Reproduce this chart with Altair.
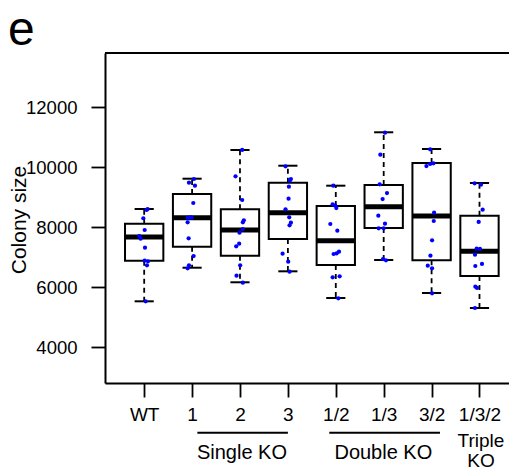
import json
import altair as alt
import pandas as pd

# ---- data ----
labels = ["WT", "1", "2", "3", "1/2", "1/3", "3/2", "1/3/2"]
q1 = [6877, 7343, 7043, 7600, 6733, 7967, 6890, 6367]
med = [7667, 8310, 7900, 8478, 7543, 8677, 8367, 7190]
q3 = [8110, 9100, 8590, 9477, 8700, 9400, 10133, 8377]
lo = [5523, 6643, 6157, 6523, 5633, 6900, 5800, 5300]
hi = [8600, 9610, 10567, 10043, 9377, 11157, 10600, 9467]

vals_wt = [8600, 8567, 8290, 7900, 7700, 7610, 7310, 6877, 6855, 6722, 5523]
jit_wt = [0.072, 0.051, -0.018, 0.010, -0.102, -0.074, 0.017, 0.010, 0.079, 0.058, 0.031]
vals_1 = [9600, 9477, 9377, 8800, 8323, 8310, 8310, 8157, 7623, 7033, 6722, 6623]
jit_1 = [0.039, -0.065, 0.060, 0.025, -0.038, -0.093, -0.010, -0.093, -0.072, 0.032, -0.065, -0.093]
vals_2 = [10567, 9690, 8900, 8223, 8157, 7933, 7810, 7443, 7357, 6722, 6377, 6143]
jit_2 = [0.046, -0.093, 0.046, 0.081, 0.060, 0.060, -0.010, -0.017, -0.079, 0.004, -0.072, 0.060]
vals_3 = [10023, 9600, 9543, 9343, 8943, 8590, 8323, 8143, 8057, 7110, 6843, 6510]
jit_3 = [-0.049, 0.063, 0.042, 0.021, 0.014, -0.049, 0.028, 0.063, 0.035, -0.111, 0.007, 0.035]
vals_12 = [9377, 8757, 8710, 8633, 8100, 7877, 7100, 7123, 7177, 6323, 6357, 5623]
jit_12 = [-0.051, -0.065, -0.010, 0.011, -0.114, 0.032, -0.045, 0.018, 0.067, -0.065, 0.081, 0.053]
vals_13 = [11143, 10410, 9423, 9133, 8933, 8377, 8110, 7957, 7957, 6933, 6890]
jit_13 = [0.027, -0.070, -0.084, 0.069, -0.022, -0.112, 0.027, -0.105, -0.001, -0.015, 0.048]
vals_32 = [10590, 10033, 10100, 10123, 8477, 8200, 7557, 7043, 6710, 6623, 5790]
jit_32 = [-0.031, -0.108, -0.031, 0.038, 0.052, 0.045, 0.010, -0.024, -0.080, 0.010, 0.010]
vals_132 = [9457, 9410, 8577, 8167, 7277, 7267, 7077, 6767, 6700, 6010, 5967, 5300]
jit_132 = [-0.101, 0.031, 0.066, -0.017, -0.059, 0.010, -0.094, 0.052, -0.087, -0.087, -0.052, -0.094]

group_names = ["Single KO", "Double KO"]
group_start = [2.11, 4.864]
group_end = [4.0, 7.175]
group_center = [3.042, 5.993]

# ---- tables ----
box = pd.DataFrame({"label": labels, "pos": list(range(1, 9)),
                    "q1": q1, "med": med, "q3": q3, "lo": lo, "hi": hi})
box["left"] = box["pos"] - 0.4
box["right"] = box["pos"] + 0.4
box["capl"] = box["pos"] - 0.2
box["capr"] = box["pos"] + 0.2

all_vals = [vals_wt, vals_1, vals_2, vals_3, vals_12, vals_13, vals_32, vals_132]
all_jit = [jit_wt, jit_1, jit_2, jit_3, jit_12, jit_13, jit_32, jit_132]
rows = []
for i, (vs, js) in enumerate(zip(all_vals, all_jit)):
    for v, j in zip(vs, js):
        rows.append({"pos": i + 1, "value": v, "jit": j})
pts = pd.DataFrame(rows)
pts["xp"] = pts["pos"] + pts["jit"]

grp = pd.DataFrame({"name": group_names, "x1": group_start, "x2": group_end, "xc": group_center})

FONT = "Liberation Sans"
xs = alt.Scale(domain=[0.182, 8.616], nice=False, zero=False)
ys = alt.Scale(domain=[2800, 13800], nice=False, zero=False)

label_expr = "%s[datum.value - 1]" % json.dumps(labels)
xaxis = alt.Axis(values=list(range(1, 9)), labelExpr=label_expr, title=None, grid=False,
                 tickSize=14, tickWidth=1.8, tickColor="black", domainColor="black",
                 domainWidth=2, labelFontSize=19, labelFont=FONT, labelColor="black",
                 labelPadding=8, labelFlush=False, labelOverlap=False)
yaxis = alt.Axis(values=[4000, 6000, 8000, 10000, 12000], format="d", title=None, grid=False,
                 tickSize=14, tickWidth=1.8, tickColor="black", domainColor="black",
                 domainWidth=2, labelFontSize=18.5, labelFont=FONT, labelColor="black",
                 labelPadding=14, labelOverlap=False)


def X(f):
    return alt.X(f, type="quantitative", scale=xs, axis=xaxis)


def Y(f):
    return alt.Y(f, type="quantitative", scale=ys, axis=yaxis)


base = alt.Chart(box)

rects = base.mark_rect(fill="white", stroke="black", strokeWidth=2).encode(
    x=X("left"), x2="right", y=Y("q1"), y2="q3")
whisk_up = base.mark_rule(color="black", strokeWidth=1.8, strokeDash=[5, 4]).encode(
    x=X("pos"), y=Y("q3"), y2="hi")
whisk_lo = base.mark_rule(color="black", strokeWidth=1.8, strokeDash=[5, 4]).encode(
    x=X("pos"), y=Y("q1"), y2="lo")
cap_hi = base.mark_rule(color="black", strokeWidth=2).encode(
    x=X("capl"), x2="capr", y=Y("hi"))
cap_lo = base.mark_rule(color="black", strokeWidth=2).encode(
    x=X("capl"), x2="capr", y=Y("lo"))
median = base.mark_rule(color="black", strokeWidth=5).encode(
    x=X("left"), x2="right", y=Y("med"))

points = alt.Chart(pts).mark_circle(size=18, color="#0000ff", opacity=1).encode(
    x=X("xp"), y=Y("value"))

one = pd.DataFrame({"a": [0]})
top_line = alt.Chart(one).mark_rule(color="black", strokeWidth=2).encode(
    x=alt.value(0), x2=alt.value(404), y=alt.value(0))

grp_lines = alt.Chart(grp).mark_rule(color="black", strokeWidth=2).encode(
    x=X("x1"), x2="x2", y=alt.value(379.7))
grp_text = alt.Chart(grp).mark_text(fontSize=20, font=FONT, color="black",
                                    align="center", baseline="alphabetic").encode(
    x=X("xc"), y=alt.value(406), text="name:N")

tri = pd.DataFrame({"t": ["Triple", "KO"], "x": [8.03, 8.03], "yy": [394.0, 414.0]})
triple = alt.Chart(tri).mark_text(
    fontSize=19, font=FONT, color="black", align="center", baseline="alphabetic").encode(
    x=X("x"), y=alt.Y("yy:Q", scale=None), text="t:N")

ytitle = alt.Chart(pd.DataFrame({"t": ["Colony size"]})).mark_text(
    fontSize=21, font=FONT, color="black", align="center", baseline="alphabetic", angle=270).encode(
    x=alt.value(-79.5), y=alt.value(167), text="t:N")

panel = alt.Chart(pd.DataFrame({"t": ["e"]})).mark_text(
    fontSize=48, font=FONT, color="black", align="left", baseline="alphabetic").encode(
    x=alt.value(-97), y=alt.value(-8), text="t:N")

chart = alt.layer(
    rects, whisk_up, whisk_lo, cap_hi, cap_lo, median, points, top_line,
    grp_lines, grp_text, triple, ytitle, panel
).properties(
    width=404, height=330,
    autosize=alt.AutoSizeParams(type="none"),
    padding={"left": 97, "top": 45, "right": 0, "bottom": 91},
).configure_view(stroke=None).configure(background="white")

chart.save("out.html", embed_options={"renderer": "svg", "actions": False})
